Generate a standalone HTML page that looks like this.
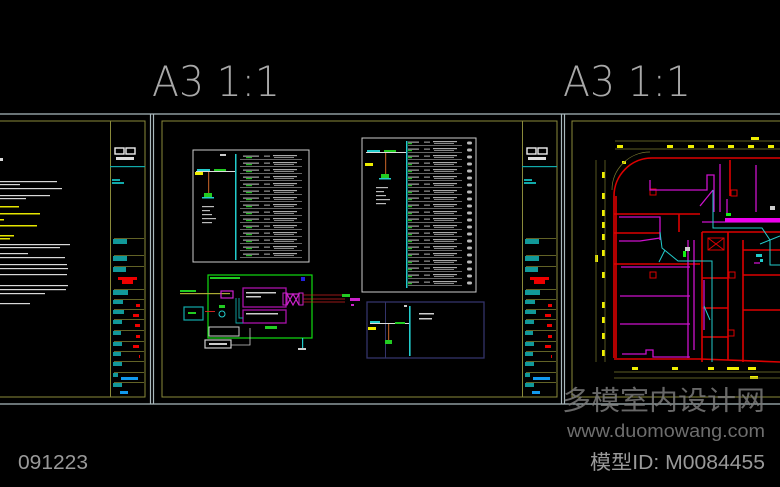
<!DOCTYPE html>
<html><head><meta charset="utf-8"><style>
html,body{margin:0;padding:0;background:#000;width:780px;height:487px;overflow:hidden}
svg{display:block}
.t{font-family:"Liberation Sans","Noto Sans CJK SC",sans-serif}
.th{font-family:"DejaVu Sans","Liberation Sans",sans-serif;font-weight:200}
</style></head><body>
<svg width="780" height="487" viewBox="0 0 780 487" xmlns="http://www.w3.org/2000/svg">
<defs>
<pattern id="rowA" x="0" y="0" width="80" height="7" patternUnits="userSpaceOnUse">
 <rect x="0" y="5" width="62" height="0.6" fill="#aaa"/>
 <rect x="3" y="1.5" width="16" height="1.3" fill="#999"/>
 <rect x="6" y="3" width="6" height="1.2" fill="#2b2"/>
 <rect x="24" y="1.5" width="6" height="1.3" fill="#888"/>
 <rect x="33" y="1" width="24" height="1.2" fill="#aaa"/>
 <rect x="34" y="3" width="20" height="1" fill="#888"/>
 <rect x="67" y="1.5" width="5" height="3" rx="1.5" fill="#bbb"/>
</pattern>
<g id="tb">
 <rect x="0" y="0" width="1" height="276" fill="#8a8a3a"/>
 <rect x="5" y="27" width="9" height="6" fill="none" stroke="#eee" stroke-width="1.4"/>
 <rect x="16" y="27" width="9" height="6" fill="none" stroke="#eee" stroke-width="1.4"/>
 <rect x="6" y="36" width="18" height="3" fill="#ddd"/>
 <rect x="0" y="45" width="35" height="1.2" fill="#1aa"/>
 <rect x="2" y="58" width="8" height="2" fill="#1aa"/><rect x="2" y="61" width="12" height="2" fill="#1aa"/>
 <g fill="#7a7a30">
 <rect x="4" y="117" width="30" height="0.8"/><rect x="4" y="134" width="30" height="0.8"/><rect x="4" y="145" width="30" height="0.8"/>
 <rect x="4" y="168" width="30" height="0.8"/><rect x="4" y="178" width="30" height="0.8"/><rect x="4" y="188" width="30" height="0.8"/>
 <rect x="4" y="198" width="30" height="0.8"/><rect x="4" y="209" width="30" height="0.8"/><rect x="4" y="220" width="30" height="0.8"/>
 <rect x="4" y="230" width="30" height="0.8"/><rect x="4" y="240" width="30" height="0.8"/><rect x="4" y="251" width="30" height="0.8"/><rect x="4" y="261" width="30" height="0.8"/>
 </g>
 <g fill="#199">
 <rect x="3" y="118" width="14" height="5"/><rect x="3" y="135" width="14" height="5"/><rect x="3" y="146" width="13" height="5"/>
 <rect x="3" y="169" width="15" height="5"/><rect x="3" y="179" width="10" height="4"/><rect x="3" y="189" width="11" height="4"/>
 <rect x="3" y="199" width="9" height="4"/><rect x="3" y="210" width="8" height="4"/><rect x="3" y="221" width="9" height="4"/>
 <rect x="3" y="231" width="8" height="4"/><rect x="3" y="241" width="9" height="4"/><rect x="3" y="252" width="5" height="4"/><rect x="3" y="262" width="9" height="4"/>
 </g>
 <rect x="8" y="156" width="19" height="3" fill="#e00"/><rect x="12" y="159" width="11" height="4" fill="#e00"/>
 <rect x="26" y="183" width="4" height="3" fill="#e00"/><rect x="23" y="193" width="6" height="3" fill="#e00"/><rect x="25" y="203" width="5" height="3" fill="#e00"/>
 <rect x="26" y="214" width="4" height="3" fill="#e00"/><rect x="23" y="224" width="6" height="3" fill="#e00"/><rect x="29" y="234" width="1" height="3" fill="#e00"/>
 <rect x="11" y="256" width="17" height="3" fill="#19e"/><rect x="10" y="270" width="8" height="3" fill="#19e"/>
</g>
</defs>

<text x="152" y="96" class="th" font-size="42" fill="#a8a8a8" textLength="128" lengthAdjust="spacingAndGlyphs">A3 1:1</text>
<text x="563" y="96" class="th" font-size="42" fill="#a8a8a8" textLength="128" lengthAdjust="spacingAndGlyphs">A3 1:1</text>

<g stroke="#a9b9bd" stroke-width="1.2" fill="none">
 <line x1="0" y1="114" x2="780" y2="114"/>
 <line x1="0" y1="404" x2="780" y2="404"/>
 <line x1="150.5" y1="114" x2="150.5" y2="404"/>
 <line x1="153.5" y1="114" x2="153.5" y2="404"/>
 <line x1="561.5" y1="114" x2="561.5" y2="404"/>
 <line x1="564.5" y1="114" x2="564.5" y2="404"/>
</g>
<g stroke="#8a8a3a" stroke-width="1" fill="none">
 <rect x="-5" y="121" width="150" height="276"/>
 <rect x="162" y="121" width="395" height="276"/>
 <rect x="572" y="121" width="220" height="276"/>
</g>
<use href="#tb" x="110" y="121"/>
<use href="#tb" x="522" y="121"/>

<g fill="#d8d8d8">
 <rect x="0" y="158" width="3" height="3"/>
 <rect x="0" y="181" width="57" height="1.2"/><rect x="0" y="184" width="20" height="1.2"/><rect x="0" y="188" width="62" height="1.2"/>
 <rect x="0" y="195" width="50" height="1.2"/><rect x="0" y="198" width="26" height="1.2"/>
 <rect x="0" y="244" width="70" height="1.2"/><rect x="0" y="247" width="60" height="1.2"/>
 <rect x="0" y="253" width="28" height="1.2"/><rect x="0" y="257" width="65" height="1.2"/>
 <rect x="0" y="264" width="67" height="1.2"/><rect x="0" y="268" width="68" height="1.2"/><rect x="0" y="274" width="67" height="1.2"/>
 <rect x="0" y="285" width="68" height="1.2"/><rect x="0" y="289" width="66" height="1.2"/><rect x="0" y="293" width="45" height="1.2"/>
 <rect x="0" y="303" width="30" height="1.2"/>
</g>
<g fill="#e5e500">
 <rect x="0" y="206" width="19" height="1.5"/><rect x="0" y="213" width="40" height="1.5"/><rect x="0" y="219" width="4" height="1.5"/>
 <rect x="0" y="225" width="37" height="1.5"/><rect x="0" y="235" width="14" height="1.5"/><rect x="0" y="238" width="10" height="1.5"/>
</g>

<rect x="193" y="150" width="116" height="112" fill="none" stroke="#ccc" stroke-width="1"/>
<rect x="196" y="171" width="40" height="1" fill="#ddd"/>
<rect x="197" y="169" width="13" height="2" fill="#2cc"/>
<rect x="214" y="169" width="12" height="2" fill="#2c2"/>
<rect x="195" y="172" width="8" height="3" fill="#ee0"/>
<rect x="208" y="172" width="1.2" height="22" fill="#a52"/>
<rect x="204" y="193" width="8" height="4" fill="#2c2"/><rect x="202" y="197" width="12" height="1.5" fill="#2cc"/>
<g fill="#bbb"><rect x="202" y="206" width="12" height="1.2"/><rect x="202" y="210" width="8" height="1.2"/><rect x="202" y="214" width="10" height="1.2"/><rect x="202" y="218" width="14" height="1.2"/><rect x="202" y="222" width="10" height="1.2"/></g>
<rect x="235" y="154" width="1.5" height="106" fill="#2cc"/>
<rect x="237" y="154" width="68" height="105" fill="url(#rowA)"/>
<rect x="220" y="154" width="6" height="2" fill="#ccc"/>

<rect x="362" y="138" width="114" height="154" fill="none" stroke="#ccc" stroke-width="1"/>
<rect x="366" y="152" width="40" height="1" fill="#ddd"/>
<rect x="367" y="150" width="13" height="2" fill="#2cc"/>
<rect x="384" y="150" width="12" height="2" fill="#2c2"/>
<rect x="365" y="163" width="8" height="3" fill="#ee0"/>
<rect x="385" y="153" width="1.2" height="22" fill="#a52"/>
<rect x="381" y="174" width="8" height="4" fill="#2c2"/><rect x="379" y="178" width="12" height="1.5" fill="#2cc"/>
<g fill="#bbb"><rect x="376" y="187" width="12" height="1.2"/><rect x="376" y="191" width="8" height="1.2"/><rect x="376" y="195" width="10" height="1.2"/><rect x="376" y="199" width="14" height="1.2"/><rect x="376" y="203" width="10" height="1.2"/></g>
<rect x="406" y="141" width="1.5" height="147" fill="#2cc"/>
<rect x="408" y="141" width="68" height="147" fill="url(#rowA)"/>

<rect x="208" y="275" width="104" height="63" fill="none" stroke="#1d1" stroke-width="1.2"/>
<rect x="210" y="277" width="30" height="2" fill="#2c2"/>
<rect x="301" y="277" width="4" height="4" fill="#22d"/>
<rect x="180" y="293" width="50" height="1.2" fill="#aa3"/>
<rect x="180" y="290" width="16" height="2" fill="#2c2"/>
<rect x="221" y="291" width="12" height="7" fill="none" stroke="#c2c" stroke-width="1.2"/>
<rect x="243" y="288" width="43" height="19" fill="none" stroke="#a1a" stroke-width="1.3"/>
<rect x="243" y="310" width="43" height="13" fill="none" stroke="#a1a" stroke-width="1.3"/>
<rect x="246" y="292" width="30" height="1.5" fill="#ccc"/><rect x="246" y="296" width="15" height="1.5" fill="#ccc"/>
<rect x="246" y="313" width="32" height="1.5" fill="#ccc"/>
<path d="M287 294 L293 305 L299 294 Z M287 305 L293 294 L299 305" fill="none" stroke="#c2c" stroke-width="1.2"/>
<rect x="283" y="293" width="4" height="12" fill="none" stroke="#c2c"/><rect x="299" y="293" width="4" height="12" fill="none" stroke="#c2c"/>
<g stroke="#c22" stroke-width="0.8"><line x1="303" y1="295" x2="345" y2="295"/><line x1="303" y1="299" x2="345" y2="299"/><line x1="303" y1="302" x2="345" y2="302"/></g>
<rect x="342" y="294" width="8" height="3" fill="#2c2"/><rect x="350" y="298" width="10" height="3" fill="#c2c"/><rect x="351" y="304" width="3" height="2" fill="#c2c"/>
<rect x="184" y="307" width="19" height="13" fill="none" stroke="#1aa" stroke-width="1.2"/>
<rect x="188" y="312" width="8" height="2" fill="#2c2"/>
<rect x="205" y="311" width="10" height="1" fill="#c22"/>
<circle cx="222" cy="314" r="3" fill="none" stroke="#2cc"/>
<rect x="219" y="305" width="6" height="3" fill="#2c2"/>
<path d="M236 298 L236 323 L243 323 M239 298 L239 318 L243 318" stroke="#1aa" fill="none" stroke-width="0.9"/>
<rect x="209" y="327" width="30" height="9" fill="none" stroke="#ccc"/>
<rect x="205" y="340" width="26" height="8" fill="none" stroke="#ccc" stroke-width="1.2"/>
<rect x="209" y="343" width="18" height="2" fill="#ccc"/>
<path d="M231 345 L250 345 L250 328" stroke="#ccc" fill="none" stroke-width="0.8"/>
<rect x="265" y="326" width="12" height="3" fill="#2c2"/>
<rect x="302" y="338" width="1.2" height="10" fill="#2cc"/>
<rect x="298" y="348" width="8" height="2" fill="#ccc"/>

<rect x="367" y="302" width="117" height="56" fill="none" stroke="#33336a" stroke-width="1.3"/>
<rect x="385" y="302" width="1" height="56" fill="#33336a"/>
<rect x="370" y="323" width="40" height="1" fill="#ddd"/>
<rect x="370" y="321" width="10" height="2" fill="#2cc"/>
<rect x="395" y="322" width="10" height="2" fill="#2c2"/>
<rect x="368" y="327" width="8" height="3" fill="#ee0"/>
<rect x="388" y="324" width="1.2" height="16" fill="#a52"/>
<rect x="385" y="340" width="7" height="4" fill="#2c2"/>
<rect x="409" y="306" width="1.6" height="50" fill="#2cc"/>
<rect x="419" y="313" width="15" height="1.5" fill="#ccc"/><rect x="419" y="318" width="13" height="1.5" fill="#ccc"/>
<rect x="404" y="305" width="3" height="2" fill="#ccc"/>

<g fill="#ee0">
 <rect x="617" y="145" width="6" height="3"/><rect x="667" y="145" width="6" height="3"/><rect x="688" y="145" width="6" height="3"/><rect x="708" y="145" width="6" height="3"/><rect x="728" y="145" width="6" height="3"/><rect x="748" y="145" width="6" height="3"/><rect x="768" y="145" width="6" height="3"/>
 <rect x="602" y="172" width="3" height="6"/><rect x="602" y="193" width="3" height="6"/><rect x="602" y="210" width="3" height="6"/><rect x="602" y="222" width="3" height="6"/><rect x="602" y="234" width="3" height="6"/><rect x="602" y="250" width="3" height="6"/><rect x="595" y="255" width="3" height="7"/><rect x="602" y="272" width="3" height="6"/><rect x="602" y="302" width="3" height="6"/><rect x="602" y="317" width="3" height="6"/><rect x="602" y="333" width="3" height="6"/><rect x="602" y="350" width="3" height="6"/>
 <rect x="632" y="367" width="6" height="3"/><rect x="672" y="367" width="6" height="3"/><rect x="708" y="367" width="6" height="3"/><rect x="727" y="367" width="12" height="3"/><rect x="748" y="367" width="8" height="3"/><rect x="750" y="376" width="8" height="3"/><rect x="751" y="137" width="8" height="3"/><rect x="622" y="161" width="4" height="3"/>
</g>
<g stroke="#7a7a30" stroke-width="0.7" fill="none">
 <line x1="615" y1="141" x2="780" y2="141"/><line x1="615" y1="149" x2="780" y2="149"/>
 <line x1="596" y1="160" x2="596" y2="362"/><line x1="605" y1="160" x2="605" y2="362"/>
 <line x1="614" y1="372" x2="780" y2="372"/><line x1="614" y1="378" x2="780" y2="378"/>
 <path d="M612 190 A38 38 0 0 1 650 152"/>
</g>
<g stroke="#d00" stroke-width="1.6" fill="none">
 <path d="M614 358 L614 196 A38 38 0 0 1 652 158 L780 158"/>
 <path d="M616 358 L616 196"/>
 <line x1="614" y1="359" x2="700" y2="359"/>
 <line x1="614" y1="214" x2="700" y2="214"/>
 <line x1="614" y1="233" x2="660" y2="233"/>
 <line x1="614" y1="264" x2="700" y2="264"/>
 <line x1="679" y1="214" x2="679" y2="232"/>
 <line x1="730" y1="160" x2="730" y2="196"/>
 <line x1="702" y1="232" x2="780" y2="232"/>
 <line x1="702" y1="232" x2="702" y2="362"/>
 <line x1="728" y1="232" x2="728" y2="360"/>
 <line x1="702" y1="278" x2="728" y2="278"/>
 <line x1="702" y1="308" x2="728" y2="308"/>
 <line x1="702" y1="337" x2="728" y2="337"/>
 <line x1="743" y1="240" x2="743" y2="362"/>
 <line x1="743" y1="250" x2="780" y2="250"/>
 <line x1="743" y1="275" x2="780" y2="275"/>
 <line x1="743" y1="310" x2="780" y2="310"/>
 <line x1="700" y1="359" x2="780" y2="362"/>
</g>
<g stroke="#d00" stroke-width="1" fill="none">
 <rect x="650" y="189" width="6" height="6"/><rect x="731" y="190" width="6" height="6"/><rect x="708" y="238" width="16" height="12"/>
 <path d="M708 238 L724 250 M724 238 L708 250"/><rect x="650" y="272" width="6" height="6"/><rect x="729" y="272" width="6" height="6"/>
 <rect x="728" y="330" width="6" height="6"/>
</g>
<g stroke="#c1c" stroke-width="1.3" fill="none">
 <path d="M650 180 L650 190 L707 190 L707 175 L714 175 L714 212"/>
 <path d="M720 164 L720 212"/><path d="M756 165 L756 212"/>
 <path d="M619 217 L660 217 L660 240 M619 241 L640 241 L660 238"/>
 <path d="M621 267 L690 267 M620 296 L690 296 M620 324 L690 324 M622 354 L646 354 L646 350 L653 350 L653 357 L690 357"/>
 <path d="M688 240 L688 358 M694 240 L694 350 M704 280 L704 330 M713 190 L700 206"/>
 <path d="M727 199 L727 214" /><path d="M702 222 L780 222"/><path d="M754 263 L760 263"/>
</g>
<rect x="725" y="218" width="55" height="4" fill="#e0e"/>
<g stroke="#2cc" stroke-width="1" fill="none">
 <path d="M713 190 L713 228 L762 228 L770 240 L770 265 L780 265"/>
 <path d="M660 232 L662 248 L678 261 L712 261 L712 362"/>
 <path d="M665 250 L659 262"/><path d="M710 320 L704 306"/>
 <path d="M760 244 L780 236"/>
</g>
<rect x="685" y="247" width="5" height="4" fill="#ccc"/><rect x="770" y="206" width="5" height="4" fill="#ccc"/>
<rect x="683" y="251" width="3" height="6" fill="#1e1"/><rect x="726" y="213" width="5" height="3" fill="#1e1"/>
<rect x="756" y="254" width="6" height="3" fill="#2cc"/><rect x="760" y="259" width="3" height="3" fill="#2cc"/>

<text x="562" y="410" class="t" font-size="27" fill="#7a7a7a" fill-opacity="0.85" textLength="203" lengthAdjust="spacingAndGlyphs">多模室内设计网</text>
<text x="567" y="437" class="t" font-size="18" fill="#6e6e6e" textLength="198" lengthAdjust="spacingAndGlyphs">www.duomowang.com</text>
<text x="18" y="469" class="t" font-size="20" fill="#999" textLength="70" lengthAdjust="spacingAndGlyphs">091223</text>
<text x="590" y="469" class="t" font-size="20" fill="#999" textLength="175" lengthAdjust="spacingAndGlyphs">模型ID: M0084455</text>
</svg>
</body></html>
